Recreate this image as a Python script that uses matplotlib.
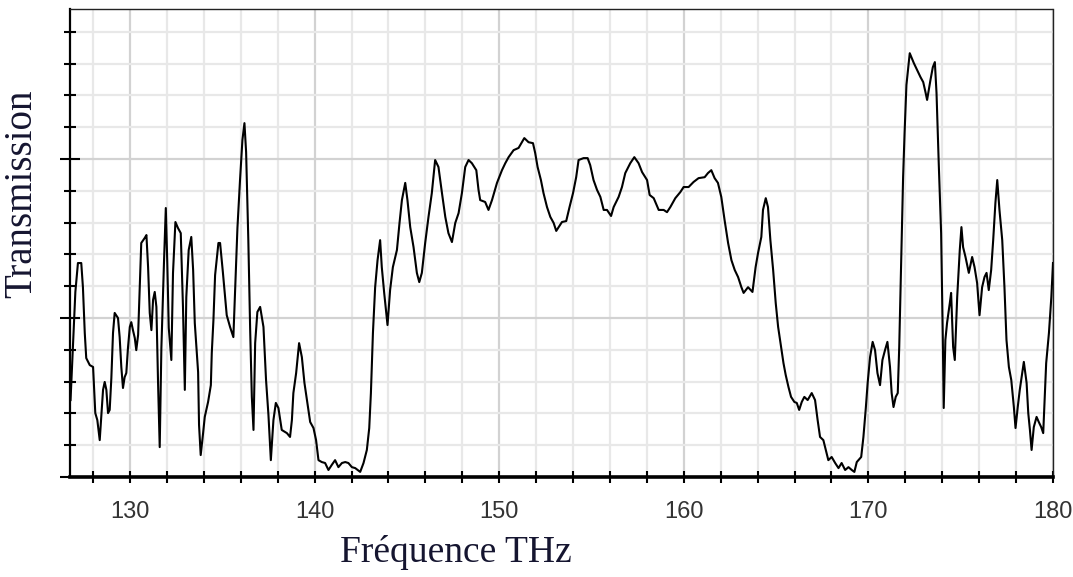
import matplotlib
matplotlib.use("Agg")
import matplotlib.pyplot as plt
import numpy as np
from matplotlib.ticker import MultipleLocator

freq = [
126.78, 126.91, 127.04, 127.18, 127.36, 127.45, 127.55, 127.63, 127.82, 128.00,
128.05, 128.12, 128.23, 128.36, 128.45, 128.54, 128.63, 128.72, 128.81, 128.90,
128.99, 129.08, 129.17, 129.35, 129.44, 129.53, 129.62, 129.71, 129.80, 129.89,
129.99, 130.07, 130.16, 130.26, 130.34, 130.44, 130.53, 130.61, 130.80, 130.89,
130.98, 131.07, 131.16, 131.25, 131.34, 131.43, 131.52, 131.61, 131.70, 131.84,
131.94, 132.02, 132.10, 132.24, 132.33, 132.46, 132.60, 132.75, 132.87, 132.97,
133.05, 133.18, 133.32, 133.42, 133.51, 133.69, 133.74, 133.83, 133.96, 134.05,
134.23, 134.38, 134.43, 134.52, 134.61, 134.79, 134.88, 135.03, 135.15, 135.24,
135.42, 135.60, 135.69, 135.82, 135.96, 136.09, 136.20, 136.29, 136.41, 136.51,
136.60, 136.69, 136.78, 136.90, 137.05, 137.23, 137.37, 137.50, 137.63, 137.77,
137.90, 138.04, 138.22, 138.50, 138.67, 138.77, 138.85, 139.00, 139.16, 139.31,
139.45, 139.61, 139.76, 139.94, 140.08, 140.21, 140.39, 140.57, 140.75, 140.93,
141.11, 141.29, 141.48, 141.66, 141.83, 142.02, 142.20, 142.47, 142.65, 142.83,
142.96, 143.05, 143.16, 143.28, 143.41, 143.55, 143.64, 143.77, 143.95, 144.09,
144.24, 144.46, 144.60, 144.73, 144.91, 145.03, 145.18, 145.36, 145.54, 145.67,
145.81, 145.99, 146.17, 146.35, 146.53, 146.71, 146.90, 147.08, 147.25, 147.44,
147.62, 147.80, 147.98, 148.16, 148.34, 148.52, 148.76, 148.88, 148.97, 149.24,
149.42, 149.61, 149.88, 150.15, 150.33, 150.51, 150.78, 151.05, 151.23, 151.36,
151.59, 151.83, 151.95, 152.08, 152.26, 152.40, 152.59, 152.77, 152.95, 153.09,
153.22, 153.40, 153.63, 153.81, 154.00, 154.17, 154.30, 154.57, 154.79, 154.93,
155.11, 155.30, 155.48, 155.66, 155.84, 156.06, 156.20, 156.47, 156.65, 156.83,
157.10, 157.32, 157.55, 157.74, 158.01, 158.15, 158.37, 158.64, 158.91, 159.09,
159.27, 159.54, 159.81, 159.99, 160.26, 160.53, 160.80, 161.13, 161.31, 161.49,
161.67, 161.85, 162.03, 162.21, 162.40, 162.58, 162.76, 162.94, 163.12, 163.24,
163.48, 163.72, 163.89, 164.02, 164.20, 164.29, 164.44, 164.56, 164.69, 164.84,
164.98, 165.11, 165.27, 165.40, 165.52, 165.67, 165.81, 165.99, 166.12, 166.25,
166.39, 166.53, 166.71, 166.93, 167.11, 167.25, 167.38, 167.56, 167.69, 167.83,
168.01, 168.20, 168.38, 168.55, 168.74, 168.92, 169.10, 169.24, 169.37, 169.61,
169.73, 169.86, 169.96, 170.09, 170.23, 170.36, 170.49, 170.63, 170.76, 170.90,
171.03, 171.17, 171.26, 171.36, 171.48, 171.59, 171.67, 171.79, 171.88, 171.96,
172.06, 172.24, 172.46, 172.64, 172.82, 172.97, 173.09, 173.18, 173.36, 173.49,
173.60, 173.69, 173.81, 173.94, 174.03, 174.08, 174.17, 174.26, 174.41, 174.48,
174.59, 174.68, 174.81, 174.95, 175.04, 175.13, 175.26, 175.44, 175.62, 175.75,
175.89, 176.02, 176.16, 176.29, 176.40, 176.52, 176.65, 176.76, 176.88, 176.98,
177.10, 177.25, 177.37, 177.48, 177.61, 177.74, 177.88, 177.97, 178.09, 178.20,
178.33, 178.42, 178.57, 178.66, 178.75, 178.84, 178.96, 179.11, 179.23, 179.36,
179.47, 179.54, 179.63, 179.78, 179.91, 180.00,
]

transmission = [
0.242, 0.409, 0.582, 0.673, 0.673, 0.597, 0.453, 0.374, 0.352, 0.346,
0.283, 0.201, 0.179, 0.116, 0.195, 0.274, 0.299, 0.274, 0.201, 0.211,
0.311, 0.453, 0.516, 0.500, 0.440, 0.346, 0.280, 0.314, 0.327, 0.406,
0.472, 0.487, 0.462, 0.437, 0.399, 0.447, 0.604, 0.736, 0.752, 0.761,
0.660, 0.516, 0.462, 0.557, 0.582, 0.535, 0.296, 0.094, 0.406, 0.673,
0.846, 0.673, 0.469, 0.368, 0.642, 0.802, 0.783, 0.767, 0.535, 0.274,
0.566, 0.714, 0.755, 0.651, 0.484, 0.330, 0.164, 0.069, 0.138, 0.189,
0.236, 0.289, 0.390, 0.494, 0.635, 0.736, 0.736, 0.645, 0.566, 0.509,
0.472, 0.440, 0.579, 0.783, 0.934, 1.060, 1.113, 1.022, 0.745, 0.462,
0.252, 0.148, 0.421, 0.519, 0.535, 0.472, 0.305, 0.195, 0.053, 0.179,
0.233, 0.217, 0.148, 0.138, 0.126, 0.179, 0.264, 0.327, 0.421, 0.377,
0.296, 0.233, 0.173, 0.154, 0.116, 0.053, 0.047, 0.044, 0.022, 0.038,
0.053, 0.031, 0.044, 0.047, 0.044, 0.031, 0.028, 0.016, 0.044, 0.085,
0.154, 0.264, 0.453, 0.597, 0.682, 0.745, 0.660, 0.579, 0.478, 0.588,
0.660, 0.714, 0.799, 0.871, 0.925, 0.871, 0.786, 0.723, 0.642, 0.613,
0.642, 0.736, 0.818, 0.893, 0.997, 0.975, 0.893, 0.818, 0.767, 0.739,
0.799, 0.830, 0.893, 0.975, 0.997, 0.987, 0.965, 0.903, 0.871, 0.865,
0.840, 0.871, 0.925, 0.965, 0.987, 1.006, 1.028, 1.035, 1.053, 1.066,
1.053, 1.050, 1.019, 0.975, 0.934, 0.893, 0.849, 0.818, 0.799, 0.774,
0.786, 0.802, 0.805, 0.849, 0.893, 0.943, 0.997, 1.003, 1.003, 0.981,
0.934, 0.903, 0.881, 0.840, 0.840, 0.821, 0.849, 0.881, 0.912, 0.956,
0.987, 1.006, 0.987, 0.959, 0.934, 0.887, 0.877, 0.840, 0.840, 0.833,
0.849, 0.877, 0.896, 0.912, 0.912, 0.928, 0.940, 0.943, 0.956, 0.965,
0.940, 0.925, 0.881, 0.808, 0.736, 0.682, 0.651, 0.629, 0.597, 0.579,
0.597, 0.582, 0.660, 0.704, 0.755, 0.840, 0.877, 0.849, 0.745, 0.651,
0.547, 0.472, 0.409, 0.358, 0.321, 0.283, 0.252, 0.236, 0.233, 0.211,
0.236, 0.252, 0.242, 0.264, 0.242, 0.179, 0.126, 0.116, 0.085, 0.053,
0.063, 0.044, 0.028, 0.044, 0.022, 0.031, 0.022, 0.016, 0.047, 0.063,
0.126, 0.217, 0.296, 0.377, 0.425, 0.399, 0.327, 0.289, 0.368, 0.399,
0.425, 0.346, 0.264, 0.220, 0.252, 0.264, 0.409, 0.714, 0.943, 1.082,
1.233, 1.333, 1.302, 1.280, 1.258, 1.242, 1.211, 1.186, 1.248, 1.289,
1.305, 1.208, 0.987, 0.767, 0.440, 0.217, 0.431, 0.484, 0.547, 0.579,
0.409, 0.368, 0.566, 0.714, 0.786, 0.723, 0.692, 0.642, 0.692, 0.660,
0.610, 0.509, 0.597, 0.629, 0.642, 0.588, 0.651, 0.745, 0.862, 0.934,
0.840, 0.745, 0.597, 0.431, 0.346, 0.305, 0.220, 0.154, 0.220, 0.274,
0.327, 0.362, 0.296, 0.201, 0.148, 0.085, 0.157, 0.189, 0.173, 0.157,
0.138, 0.233, 0.358, 0.453, 0.566, 0.673,
]

x_major_ticks = [130, 140, 150, 160, 170, 180]
x_tick_labels = ["130", "140", "150", "160", "170", "180"]
x_label = "Fréquence THz"
y_label = "Transmission"

W, H = 1073, 577
fig = plt.figure(figsize=(W / 100, H / 100), dpi=100)
ax = fig.add_axes([70 / W, (H - 477) / H, (1053 - 70) / W, (477 - 9) / H])

ax.set_xlim(126.75, 180)
ax.set_ylim(0, 1.472)

# grid
for xv in np.arange(128, 180.01, 2):
    major = abs(xv % 10) < 1e-6
    ax.axvline(xv, color="#d2d2d2" if major else "#e8e8e8", lw=1.6, zorder=0)
for yv in np.arange(0.1, 1.45, 0.1):
    major = abs((yv * 10) % 5) < 1e-6 or abs((yv * 10) % 5 - 5) < 1e-6
    ax.axhline(yv, color="#d2d2d2" if major else "#e8e8e8", lw=1.6, zorder=0)

ax.plot(freq, transmission, color="black", lw=1.5, zorder=3)

ax.set_xticks(x_major_ticks)
ax.set_xticklabels(x_tick_labels)
ax.xaxis.set_minor_locator(MultipleLocator(2))
ax.yaxis.set_major_locator(MultipleLocator(0.5))
ax.yaxis.set_minor_locator(MultipleLocator(0.1))
ax.set_yticklabels([])

ax.tick_params(axis="x", which="major", direction="inout", length=8, width=1.5,
               pad=13, labelsize=17, labelcolor="#333333")
ax.tick_params(axis="x", which="minor", direction="inout", length=8, width=1.5)
ax.tick_params(axis="y", which="major", direction="inout", length=14, width=1.5)
ax.tick_params(axis="y", which="minor", direction="inout", length=9, width=1.5)
for lab in ax.get_xticklabels():
    lab.set_family("Liberation Sans")

ax.spines["left"].set_linewidth(1.6)
ax.spines["bottom"].set_linewidth(2.6)
for s in ("top", "right"):
    ax.spines[s].set_linestyle((0, (1, 1)))
    ax.spines[s].set_linewidth(1.0)
    ax.spines[s].set_color("#222222")

fig.text(456 / W, 1 - 553 / H, x_label, family="Liberation Serif", fontsize=27,
         color="#151530", ha="center", va="center")
fig.text(22 / W, 1 - 194 / H, y_label, family="Liberation Serif", fontsize=28,
         color="#151530", ha="center", va="center", rotation=90)

fig.savefig("out.png", dpi=100)
